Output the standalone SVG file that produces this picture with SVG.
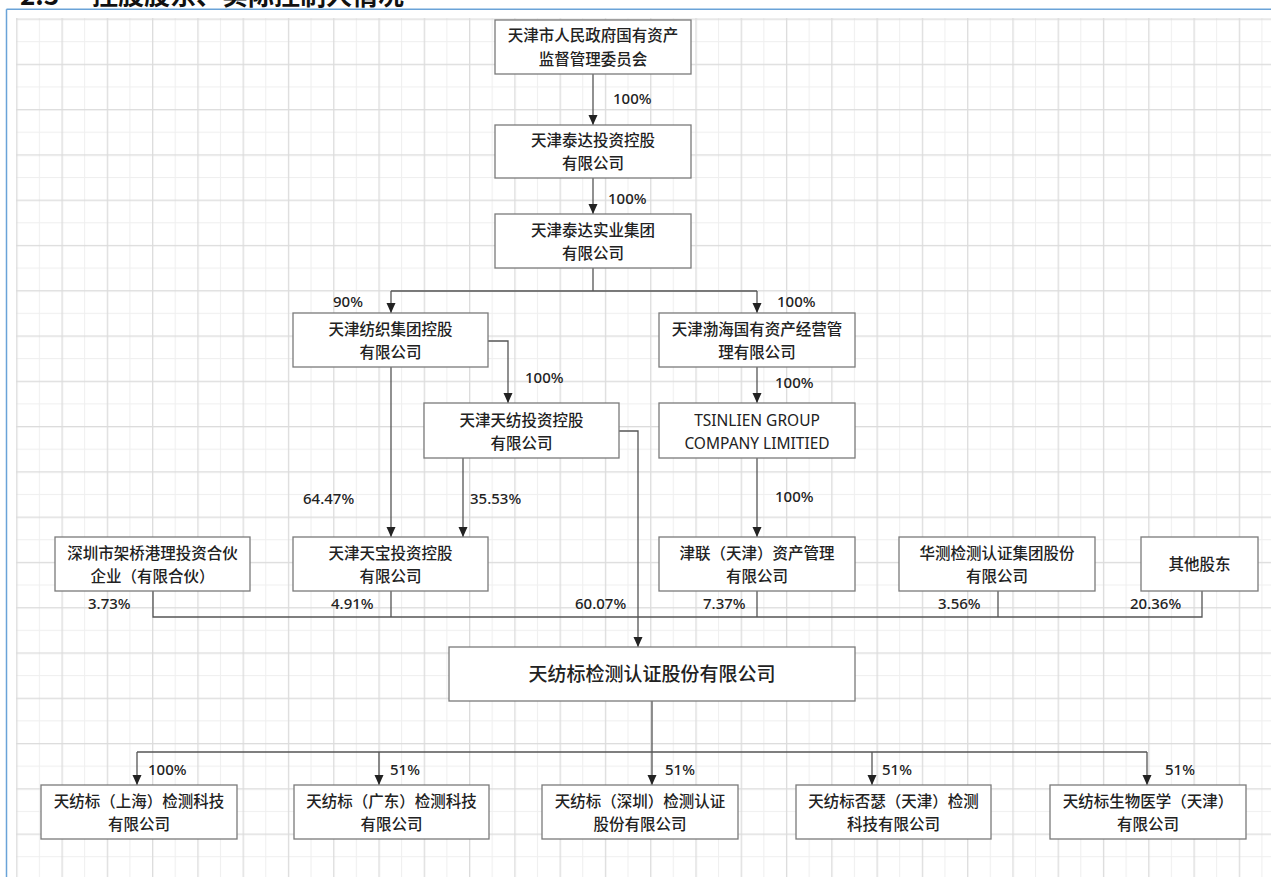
<svg xmlns="http://www.w3.org/2000/svg" width="1271" height="877" viewBox="0 0 1271 877">
<defs>
<pattern id="grid" patternUnits="userSpaceOnUse" x="16.2" y="18.5" width="45.28" height="45.28">
<rect x="0" y="0" width="45.28" height="45.28" fill="#ffffff"/>
<rect x="22.64" y="0" width="1" height="45.28" fill="#efefef"/>
<rect x="0" y="22.64" width="45.28" height="1" fill="#efefef"/>
<rect x="0" y="0" width="1.3" height="45.28" fill="#dcdcdc"/>
<rect x="0" y="0" width="45.28" height="1.3" fill="#dcdcdc"/>
</pattern>
<marker id="arr" markerUnits="userSpaceOnUse" markerWidth="10" markerHeight="10" refX="10" refY="4.5" orient="auto">
<path d="M0,0 L10,4.5 L0,9 z" fill="#222"/>
</marker>
<style>
.box{fill:#ffffff;stroke:#7a7a7a;stroke-width:1.3}
.t{font-family:"Noto Sans CJK SC","Noto Sans",sans-serif;font-size:15.5px;font-weight:500;fill:#222;text-anchor:middle}
.big{font-size:19px}
.en{font-family:"Noto Sans","Noto Sans CJK SC",sans-serif;font-size:15.5px;font-weight:400}
.p{font-family:"Noto Sans","Open Sans",sans-serif;font-size:15px;font-weight:500;fill:#222}
.c{fill:none;stroke:#555;stroke-width:1.3}
.ca{fill:none;stroke:#555;stroke-width:1.3;marker-end:url(#arr)}
</style>
</defs>
<rect x="0" y="0" width="1271" height="877" fill="#ffffff"/>
<rect x="16" y="18" width="1255" height="859" fill="url(#grid)"/>
<text y="5" font-family="Noto Sans CJK SC, sans-serif" font-size="26" font-weight="bold" fill="#111"><tspan x="20">2.3</tspan><tspan x="92">控股股东、实际控制人情况</tspan></text>
<path d="M6.5 9.3 H1271 M6.5 9.3 V877" fill="none" stroke="#6aa3d8" stroke-width="1.5"/>

<g id="connectors">
<path class="ca" d="M593 74 V125"/>
<path class="ca" d="M593 178 V214"/>
<path class="c" d="M593 268 V291 M391 291 H757"/>
<path class="ca" d="M391 291 V313"/>
<path class="ca" d="M757 291 V313"/>
<path class="ca" d="M488 341 H508 V403"/>
<path class="ca" d="M757 367 V403"/>
<path class="ca" d="M757 458 V537"/>
<path class="ca" d="M391 367 V537"/>
<path class="ca" d="M463 458 V537"/>
<path class="ca" d="M619 431 H638 V647"/>
<path class="c" d="M153 591 V617 H1202 V591 M391 591 V617 M757 591 V617 M998 591 V617"/>
<path class="c" d="M652 701 V752 M137 752 H1147"/>
<path class="ca" d="M137 752 V785"/>
<path class="ca" d="M379 752 V785"/>
<path class="ca" d="M652 752 V785"/>
<path class="ca" d="M872 752 V785"/>
<path class="ca" d="M1147 752 V785"/>
</g>

<g id="labels">
<text class="p" x="613" y="104">100%</text>
<text class="p" x="608" y="204">100%</text>
<text class="p" x="333" y="307">90%</text>
<text class="p" x="777" y="307">100%</text>
<text class="p" x="525" y="383">100%</text>
<text class="p" x="775" y="388">100%</text>
<text class="p" x="775" y="502">100%</text>
<text class="p" x="303" y="504">64.47%</text>
<text class="p" x="470" y="504">35.53%</text>
<text class="p" x="88" y="609">3.73%</text>
<text class="p" x="331" y="609">4.91%</text>
<text class="p" x="575" y="609">60.07%</text>
<text class="p" x="703" y="609">7.37%</text>
<text class="p" x="938" y="609">3.56%</text>
<text class="p" x="1130" y="609">20.36%</text>
<text class="p" x="148" y="775">100%</text>
<text class="p" x="390" y="775">51%</text>
<text class="p" x="665" y="775">51%</text>
<text class="p" x="882" y="775">51%</text>
<text class="p" x="1165" y="775">51%</text>
</g>

<g id="n1"><rect class="box" x="495" y="20" width="196" height="54"/><text class="t" x="593" y="40.5">天津市人民政府国有资产</text><text class="t" x="593" y="65">监督管理委员会</text></g>
<g id="n2"><rect class="box" x="495" y="125" width="196" height="53"/><text class="t" x="593" y="145.5">天津泰达投资控股</text><text class="t" x="593" y="168.5">有限公司</text></g>
<g id="n3"><rect class="box" x="495" y="214" width="196" height="54"/><text class="t" x="593" y="236">天津泰达实业集团</text><text class="t" x="593" y="259">有限公司</text></g>
<g id="n4"><rect class="box" x="293" y="313" width="195" height="54"/><text class="t" x="390.5" y="335">天津纺织集团控股</text><text class="t" x="390.5" y="358">有限公司</text></g>
<g id="n5"><rect class="box" x="659" y="313" width="196" height="54"/><text class="t" x="757" y="335">天津渤海国有资产经营管</text><text class="t" x="757" y="358">理有限公司</text></g>
<g id="n6"><rect class="box" x="424" y="403" width="195" height="55"/><text class="t" x="521.5" y="426">天津天纺投资控股</text><text class="t" x="521.5" y="449">有限公司</text></g>
<g id="n7"><rect class="box" x="659" y="403" width="196" height="55"/><text class="t en" x="757" y="426">TSINLIEN GROUP</text><text class="t en" x="757" y="449">COMPANY LIMITIED</text></g>
<g id="n8"><rect class="box" x="55" y="537" width="195" height="54"/><text class="t" x="152.5" y="559">深圳市架桥港理投资合伙</text><text class="t" x="152.5" y="582">企业（有限合伙）</text></g>
<g id="n9"><rect class="box" x="293" y="537" width="195" height="54"/><text class="t" x="390.5" y="559">天津天宝投资控股</text><text class="t" x="390.5" y="582">有限公司</text></g>
<g id="n10"><rect class="box" x="659" y="537" width="196" height="54"/><text class="t" x="757" y="559">津联（天津）资产管理</text><text class="t" x="757" y="582">有限公司</text></g>
<g id="n11"><rect class="box" x="899" y="537" width="196" height="54"/><text class="t" x="997" y="559">华测检测认证集团股份</text><text class="t" x="997" y="582">有限公司</text></g>
<g id="n12"><rect class="box" x="1141" y="537" width="117" height="54"/><text class="t" x="1199.5" y="569.5">其他股东</text></g>
<g id="n13"><rect class="box" x="449" y="647" width="406" height="54"/><text class="t big" x="652" y="681">天纺标检测认证股份有限公司</text></g>
<g id="n14"><rect class="box" x="41" y="785" width="196" height="54"/><text class="t" x="139" y="807">天纺标（上海）检测科技</text><text class="t" x="139" y="830">有限公司</text></g>
<g id="n15"><rect class="box" x="294" y="785" width="195" height="54"/><text class="t" x="391.5" y="807">天纺标（广东）检测科技</text><text class="t" x="391.5" y="830">有限公司</text></g>
<g id="n16"><rect class="box" x="542" y="785" width="196" height="54"/><text class="t" x="640" y="807">天纺标（深圳）检测认证</text><text class="t" x="640" y="830">股份有限公司</text></g>
<g id="n17"><rect class="box" x="796" y="785" width="195" height="54"/><text class="t" x="893.5" y="807">天纺标否瑟（天津）检测</text><text class="t" x="893.5" y="830">科技有限公司</text></g>
<g id="n18"><rect class="box" x="1050" y="785" width="196" height="54"/><text class="t" x="1148" y="807">天纺标生物医学（天津）</text><text class="t" x="1148" y="830">有限公司</text></g>
</svg>
